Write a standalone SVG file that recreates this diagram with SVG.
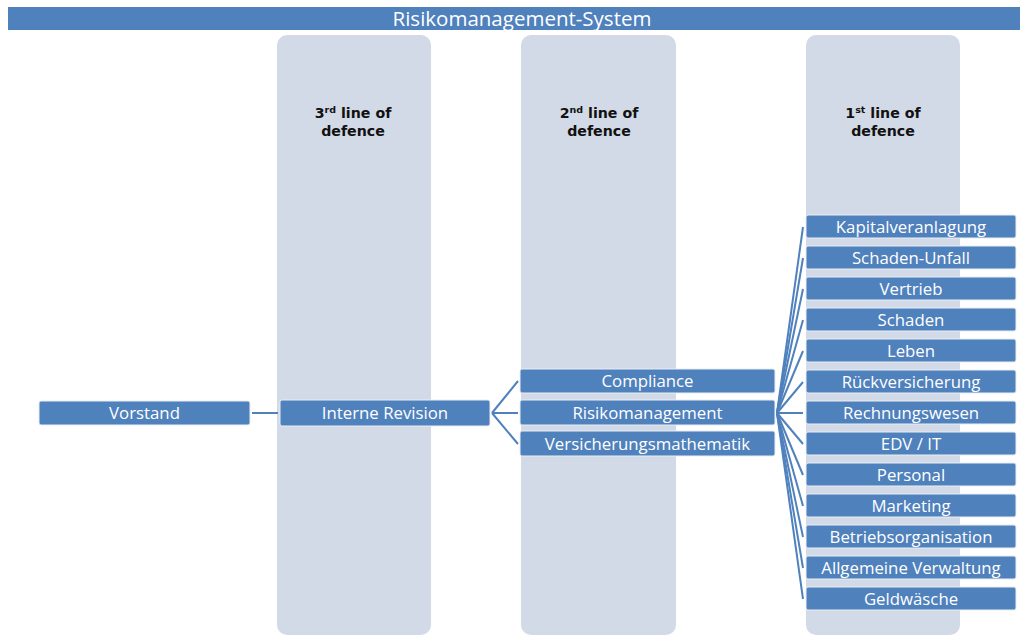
<svg xmlns="http://www.w3.org/2000/svg" width="1022" height="635" viewBox="0 0 1022 635">
<style>
.col{fill:#D3DAE7}
.box{fill:#4F81BD;stroke:#E8EDF5;stroke-width:1}
.t{font-family:"Open Sans","Liberation Sans",sans-serif;font-size:16.8px;fill:#FFFFFF;text-anchor:middle}
.h{font-family:"DejaVu Sans","Liberation Sans",sans-serif;font-weight:bold;font-size:14.2px;fill:#111111;text-anchor:middle}
.c line{stroke:#4F81BD;stroke-width:2}
</style>
<rect x="0" y="0" width="1022" height="635" fill="#FFFFFF"/>
<g id="title"><rect x="8" y="7" width="1012" height="23" fill="#4F81BD"/><text x="522" y="25.5" class="t" style="font-size:20.5px">Risikomanagement-System</text></g>
<g id="col3"><rect class="col" x="277" y="35" width="154" height="600" rx="10"/><text class="h" x="353" y="118">3<tspan font-size="9.5" dy="-5">rd</tspan><tspan dy="5"> line of</tspan></text><text class="h" x="353" y="136">defence</text></g>
<g id="col2"><rect class="col" x="521" y="35" width="155" height="600" rx="10"/><text class="h" x="599" y="118">2<tspan font-size="9.5" dy="-5">nd</tspan><tspan dy="5"> line of</tspan></text><text class="h" x="599" y="136">defence</text></g>
<g id="col1"><rect class="col" x="806" y="35" width="154" height="600" rx="10"/><text class="h" x="883" y="118">1<tspan font-size="9.5" dy="-5">st</tspan><tspan dy="5"> line of</tspan></text><text class="h" x="883" y="136">defence</text></g>
<g class="c" id="connectors">
<line x1="252" y1="413" x2="278" y2="413"/>
<line x1="492" y1="413" x2="518" y2="381"/>
<line x1="492" y1="413" x2="518" y2="413"/>
<line x1="492" y1="413" x2="518" y2="444"/>
<line x1="777" y1="413" x2="803" y2="227"/>
<line x1="777" y1="413" x2="803" y2="258"/>
<line x1="777" y1="413" x2="803" y2="289"/>
<line x1="777" y1="413" x2="803" y2="320"/>
<line x1="777" y1="413" x2="803" y2="351"/>
<line x1="777" y1="413" x2="803" y2="382"/>
<line x1="777" y1="413" x2="803" y2="413"/>
<line x1="777" y1="413" x2="803" y2="444"/>
<line x1="777" y1="413" x2="803" y2="475"/>
<line x1="777" y1="413" x2="803" y2="506"/>
<line x1="777" y1="413" x2="803" y2="537"/>
<line x1="777" y1="413" x2="803" y2="568"/>
<line x1="777" y1="413" x2="803" y2="599"/>
</g>
<g id="vorstand"><rect class="box" x="39" y="401" width="211" height="24" rx="2"/><text class="t" x="144.5" y="419">Vorstand</text></g>
<g id="interne-revision"><rect class="box" x="280" y="400" width="210" height="26" rx="2"/><text class="t" x="385" y="419">Interne Revision</text></g>
<g id="compliance"><rect class="box" x="520" y="369" width="255" height="24" rx="2"/><text class="t" x="647.5" y="387">Compliance</text></g>
<g id="risikomanagement"><rect class="box" x="520" y="400" width="255" height="25" rx="2"/><text class="t" x="647.5" y="419">Risikomanagement</text></g>
<g id="versicherungsmathematik"><rect class="box" x="520" y="431" width="255" height="25" rx="2"/><text class="t" x="647.5" y="450">Versicherungsmathematik</text></g>
<g id="kapitalveranlagung"><rect class="box" x="806" y="215" width="210" height="23" rx="2"/><text class="t" x="911" y="232.5">Kapitalveranlagung</text></g>
<g id="schaden-unfall"><rect class="box" x="806" y="246" width="210" height="23" rx="2"/><text class="t" x="911" y="263.5">Schaden-Unfall</text></g>
<g id="vertrieb"><rect class="box" x="806" y="277" width="210" height="23" rx="2"/><text class="t" x="911" y="294.5">Vertrieb</text></g>
<g id="schaden"><rect class="box" x="806" y="308" width="210" height="23" rx="2"/><text class="t" x="911" y="325.5">Schaden</text></g>
<g id="leben"><rect class="box" x="806" y="339" width="210" height="23" rx="2"/><text class="t" x="911" y="356.5">Leben</text></g>
<g id="rueckversicherung"><rect class="box" x="806" y="370" width="210" height="23" rx="2"/><text class="t" x="911" y="387.5">Rückversicherung</text></g>
<g id="rechnungswesen"><rect class="box" x="806" y="401" width="210" height="23" rx="2"/><text class="t" x="911" y="418.5">Rechnungswesen</text></g>
<g id="edv-it"><rect class="box" x="806" y="432" width="210" height="23" rx="2"/><text class="t" x="911" y="449.5">EDV / IT</text></g>
<g id="personal"><rect class="box" x="806" y="463" width="210" height="23" rx="2"/><text class="t" x="911" y="480.5">Personal</text></g>
<g id="marketing"><rect class="box" x="806" y="494" width="210" height="23" rx="2"/><text class="t" x="911" y="511.5">Marketing</text></g>
<g id="betriebsorganisation"><rect class="box" x="806" y="525" width="210" height="23" rx="2"/><text class="t" x="911" y="542.5">Betriebsorganisation</text></g>
<g id="allgemeine-verwaltung"><rect class="box" x="806" y="556" width="210" height="23" rx="2"/><text class="t" x="911" y="573.5">Allgemeine Verwaltung</text></g>
<g id="geldwaesche"><rect class="box" x="806" y="587" width="210" height="23" rx="2"/><text class="t" x="911" y="604.5">Geldwäsche</text></g>
</svg>
